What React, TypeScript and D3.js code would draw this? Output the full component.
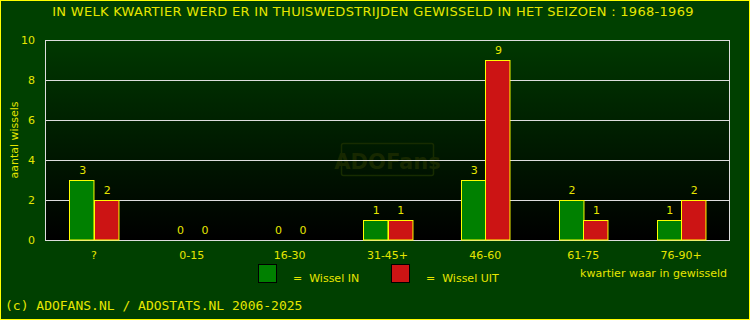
import React, { useRef, useEffect } from 'react';
import * as d3 from 'd3';

const categories = ['?', '0-15', '16-30', '31-45+', '46-60', '61-75', '76-90+'];
const wisselIn = [3, 0, 0, 1, 3, 2, 1];
const wisselUit = [2, 0, 0, 1, 9, 1, 2];
const yTicks = [0, 2, 4, 6, 8, 10];

const YELLOW = '#e6e600';

export default function App() {
    const svgRef = useRef<SVGSVGElement | null>(null);

    useEffect(() => {
        if (!svgRef.current) return;
        const W = 750, H = 320;
        const margin = { top: 40, right: 20, bottom: 80, left: 45 };
        const width = W - margin.left - margin.right;
        const height = H - margin.top - margin.bottom;

        const svg = d3.select(svgRef.current);
        svg.selectAll('*').remove();

        const defs = svg.append('defs');
        const grad = defs.append('linearGradient')
            .attr('id', 'plotbg')
            .attr('x1', 0).attr('y1', 0).attr('x2', 0).attr('y2', 1);
        grad.append('stop').attr('offset', '0%').attr('stop-color', '#003800');
        grad.append('stop').attr('offset', '100%').attr('stop-color', '#000000');

        // outer background + yellow frame
        svg.append('rect')
            .attr('x', 0.5).attr('y', 0.5)
            .attr('width', W - 1).attr('height', H - 1)
            .attr('fill', '#004000')
            .attr('stroke', '#ffff00');

        svg.append('text')
            .attr('x', 373).attr('y', 16)
            .attr('text-anchor', 'middle')
            .style('font-family', 'DejaVu Sans')
            .style('font-size', '13px')
            .style('letter-spacing', '0.3px')
            .attr('fill', YELLOW)
            .text('IN WELK KWARTIER WERD ER IN THUISWEDSTRIJDEN GEWISSELD IN HET SEIZOEN : 1968-1969');

        const g = svg.append('g').attr('transform', `translate(${margin.left},${margin.top})`);

        g.append('rect')
            .attr('width', width).attr('height', height)
            .attr('fill', 'url(#plotbg)');

        const x = d3.scaleBand().domain(categories).range([0, width]);
        const y = d3.scaleLinear().domain([0, 10]).range([height, 0]);
        const bw = x.bandwidth() * 0.25;

        // watermark
        const wm = g.append('g').attr('transform', `translate(${x('31-45+')! + x.bandwidth() / 2},${y(4) - 0.5})`);
        wm.append('rect')
            .attr('x', -46).attr('y', -16).attr('width', 92).attr('height', 32).attr('rx', 2)
            .attr('fill', 'none').attr('stroke', '#172c00').attr('stroke-width', 1.5);
        wm.append('text')
            .attr('text-anchor', 'middle').attr('y', 9)
            .style('font-family', 'DejaVu Sans').style('font-weight', 'bold').style('font-size', '21px')
            .attr('fill', '#172800')
            .text('ADOFans');

        // grid
        g.selectAll('.grid')
            .data(yTicks)
            .enter().append('line')
            .attr('x1', 0).attr('x2', width)
            .attr('y1', d => Math.round(y(d)) + 0.5).attr('y2', d => Math.round(y(d)) + 0.5)
            .attr('stroke', '#dddddd');
        g.append('path')
            .attr('d', `M0.5,${height}V0.5H${width - 0.5}V${height}`)
            .attr('fill', 'none').attr('stroke', '#dddddd');

        const series = [
            { name: 'in', values: wisselIn, color: '#008000', off: -bw },
            { name: 'uit', values: wisselUit, color: '#cc1414', off: 0 },
        ];

        series.forEach(s => {
            const cx = (i: number) => x(categories[i])! + x.bandwidth() / 2 + s.off;
            g.selectAll(`.bar-${s.name}`)
                .data(s.values.map((v, i) => ({ v, i })).filter(d => d.v > 0))
                .enter().append('rect')
                .attr('x', d => Math.round(cx(d.i)) + 0.5)
                .attr('y', d => Math.round(y(d.v)) + 0.5)
                .attr('width', bw)
                .attr('height', d => height - Math.round(y(d.v)) - 0.5)
                .attr('fill', s.color)
                .attr('stroke', '#ffff00');
            g.selectAll(`.lbl-${s.name}`)
                .data(s.values.map((v, i) => ({ v, i })))
                .enter().append('text')
                .attr('x', d => cx(d.i) + bw / 2 + 1)
                .attr('y', d => y(d.v) - 6)
                .attr('text-anchor', 'middle')
                .style('font-family', 'DejaVu Sans').style('font-size', '11px')
                .attr('fill', YELLOW)
                .text(d => d.v);
        });

        // y axis labels
        g.selectAll('.ytick')
            .data(yTicks)
            .enter().append('text')
            .attr('x', -10).attr('y', d => y(d) + 4)
            .attr('text-anchor', 'end')
            .style('font-family', 'DejaVu Sans').style('font-size', '11px')
            .attr('fill', YELLOW)
            .text(d => d);

        // x axis labels
        g.selectAll('.xtick')
            .data(categories)
            .enter().append('text')
            .attr('x', d => x(d)! + x.bandwidth() / 2)
            .attr('y', height + 19)
            .attr('text-anchor', 'middle')
            .style('font-family', 'DejaVu Sans').style('font-size', '11px')
            .attr('fill', YELLOW)
            .text(d => d);

        svg.append('text')
            .attr('transform', 'translate(18,140) rotate(-90)')
            .attr('text-anchor', 'middle')
            .style('font-family', 'DejaVu Sans').style('font-size', '11px')
            .attr('fill', YELLOW)
            .text('aantal wissels');

        // legend
        const legend = [
            { color: '#008000', label: '=  Wissel IN', x: 258 },
            { color: '#cc1414', label: '=  Wissel UIT', x: 391 },
        ];
        legend.forEach(l => {
            svg.append('rect')
                .attr('x', l.x + 0.5).attr('y', 264.5).attr('width', 18).attr('height', 18)
                .attr('fill', l.color).attr('stroke', '#000000');
            svg.append('text')
                .attr('x', l.x + 35).attr('y', 282)
                .style('font-family', 'DejaVu Sans').style('font-size', '11px')
                .style('white-space', 'pre')
                .attr('fill', YELLOW)
                .text(l.label);
        });

        svg.append('text')
            .attr('x', 727).attr('y', 277)
            .attr('text-anchor', 'end')
            .style('font-family', 'DejaVu Sans').style('font-size', '11px')
            .attr('fill', YELLOW)
            .text('kwartier waar in gewisseld');

        svg.append('text')
            .attr('x', 5).attr('y', 310)
            .style('font-family', 'DejaVu Sans Mono').style('font-size', '13px')
            .attr('fill', YELLOW)
            .text('(c) ADOFANS.NL / ADOSTATS.NL 2006-2025');
    }, []);

    return (
        <svg
            ref={svgRef}
            width={750}
            height={320}
            style={{ position: 'absolute', left: 0, top: 0, display: 'block' }}
        />
    );
}
